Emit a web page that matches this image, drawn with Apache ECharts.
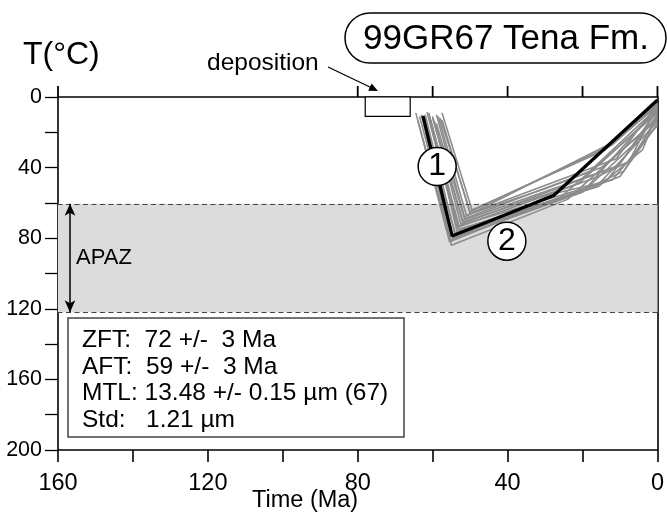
<!DOCTYPE html>
<html>
<head>
<meta charset="utf-8">
<script src="https://cdn.jsdelivr.net/npm/echarts@6/dist/echarts.min.js"></script>
<style>
html,body{margin:0;padding:0;background:#fff;}
#chart{width:667px;height:512px;}
</style>
</head>
<body>
<div id="chart"></div>
<script>
// ---- data (Time in Ma, Temperature in °C) ----
const xLabelValues = [160, 120, 80, 40, 0];
const yLabelValues = [0, 40, 80, 120, 160, 200];
const topTickValues = [160, 80, 60, 40, 20, 0];

const bestPath = [[62.6, 10.7], [54.8, 78.7], [27.7, 55.8], [0, 1.7]];

const grayPath1  = [[64.5, 9], [55.5, 82], [26, 57], [0, 9]];
const grayPath2  = [[63, 10], [55, 84], [24, 58], [0, 12]];
const grayPath3  = [[62, 12], [54.5, 80], [20, 54], [0, 6]];
const grayPath4  = [[61, 9], [53.5, 76], [16, 50], [0, 14]];
const grayPath5  = [[60.5, 13], [53, 73], [13.8, 48], [0, 10]];
const grayPath6  = [[60, 11], [52.5, 72], [10.4, 39], [0, 7]];
const grayPath7  = [[59.5, 14], [52, 70], [7.7, 37], [0, 5]];
const grayPath8  = [[59, 10], [51.5, 68], [12.2, 26], [0, 3]];
const grayPath9  = [[58, 12], [50, 65], [12, 27], [0, 4]];
const grayPath10 = [[57.5, 9], [49.5, 64], [14, 30], [0, 5]];
const grayPath11 = [[62.5, 14], [54, 77], [19, 52], [6.9, 28], [0, 8]];
const grayPath12 = [[63.5, 11], [55, 79], [23.7, 56], [10, 45], [0, 15]];
const grayPath13 = [[61.5, 8.5], [53.5, 74], [17, 46], [7, 36], [0, 11]];
const grayPath14 = [[60, 12], [52, 71], [21, 49], [0, 8]];
const grayPath15 = [[58.5, 11], [51, 67], [30, 52], [15, 40], [0, 13]];
const grayPath16 = [[64, 13], [55.2, 81], [28, 55], [12, 47], [0, 16]];
const grayPath17 = [[62, 10], [54, 78], [22, 55], [9, 42], [0, 12]];
const grayPath18 = [[59, 15], [51.5, 69], [18, 42], [0, 6]];
const grayPath19 = [[61, 12], [53, 75], [15.7, 50.7], [4, 30], [0, 9]];
const grayPath20 = [[57.5, 13], [50, 66], [11, 35], [0, 4]];

const grayPaths = [grayPath1, grayPath2, grayPath3, grayPath4, grayPath5, grayPath6, grayPath7,
  grayPath8, grayPath9, grayPath10, grayPath11, grayPath12, grayPath13, grayPath14, grayPath15,
  grayPath16, grayPath17, grayPath18, grayPath19, grayPath20];

const apazRange = [60.5, 122];          // °C (as drawn)
const depositionTime = [78, 66];        // Ma
const depositionTemp = [0, 11];         // °C
const apazArrowTime = 156.8;            // Ma
const segmentMarkers = [[58.8, 39.4], [40.2, 81.7]];
const segmentLabels = ['1', '2'];

const infoLines = [
  'ZFT:  72 +/-  3 Ma',
  'AFT:  59 +/-  3 Ma',
  'MTL: 13.48 +/- 0.15 \u00b5m (67)',
  'Std:   1.21 \u00b5m'
];

// ---- chart ----
const FONT = "'Liberation Sans', Arial, Helvetica, sans-serif";
const chart = echarts.init(document.getElementById('chart'), null, {renderer: 'canvas'});

const series = [];
series.push({
  type: 'line', data: [], silent: true, z: 1,
  markArea: {
    silent: true,
    data: [
      [{yAxis: apazRange[0], itemStyle: {color: '#dcdcdc'}}, {yAxis: apazRange[1]}],
      [{coord: [depositionTime[0], depositionTemp[0]], itemStyle: {color: '#ffffff', borderColor: '#000', borderWidth: 1.2}},
       {coord: [depositionTime[1], depositionTemp[1]]}]
    ]
  },
  markLine: {
    silent: true, symbol: 'none', animation: false,
    label: {show: false},
    lineStyle: {color: '#444', type: [5, 3.5], width: 1.2},
    data: [{yAxis: apazRange[0]}, {yAxis: apazRange[1]}]
  }
});
series.push({
  type: 'line', data: [], silent: true, z: 3,
  markLine: {
    silent: true, animation: false,
    symbol: ['arrow', 'arrow'], symbolSize: [8, 12],
    label: {show: false},
    lineStyle: {color: '#000', type: 'solid', width: 1.5},
    data: [[{coord: [apazArrowTime, apazRange[0]]}, {coord: [apazArrowTime, apazRange[1]]}]]
  }
});
grayPaths.forEach(function (p) {
  series.push({
    type: 'line', data: p, showSymbol: false, silent: true, z: 4,
    lineStyle: {color: '#8c8c8c', width: 1.6}
  });
});
series.push({
  type: 'line', data: bestPath, showSymbol: false, silent: true, z: 5,
  lineStyle: {color: '#000', width: 3.2}
});
series.push({
  type: 'scatter', z: 6, silent: true,
  data: segmentMarkers.map(function (d, i) { return {value: d, name: segmentLabels[i]}; }),
  symbol: 'circle', symbolSize: 38,
  itemStyle: {color: '#fff', borderColor: '#000', borderWidth: 1.5, opacity: 1},
  label: {show: true, position: 'inside', formatter: '{b}', color: '#000', fontSize: 32, fontFamily: FONT}
});

const option = {
  animation: false,
  backgroundColor: '#fff',
  grid: {left: 58, right: 8, top: 97, bottom: 62, containLabel: false},
  xAxis: [{
    type: 'value', position: 'bottom', inverse: true, min: 0, max: 160, interval: 20,
    axisLine: {show: true, onZero: false, lineStyle: {color: '#000', width: 1.6}},
    axisTick: {show: true, length: 12, lineStyle: {color: '#000', width: 1.6}},
    axisLabel: {
      show: true, margin: 22, color: '#000', fontSize: 23.5, fontFamily: FONT,
      showMinLabel: true, showMaxLabel: true,
      formatter: function (v) { return xLabelValues.indexOf(v) >= 0 ? String(v) : ''; }
    },
    splitLine: {show: false}
  }, {
    type: 'value', position: 'top', inverse: true, min: 0, max: 160, interval: 20,
    axisLine: {show: true, onZero: false, lineStyle: {color: '#000', width: 1.6}},
    axisTick: {show: false}, axisLabel: {show: false},
    splitLine: {show: false}
  }],
  yAxis: [{
    type: 'value', position: 'left', inverse: true, min: 0, max: 200, interval: 20,
    axisLine: {show: true, onZero: false, lineStyle: {color: '#000', width: 1.6}},
    axisTick: {show: true, length: 13, lineStyle: {color: '#000', width: 1.3}},
    axisLabel: {
      show: true, margin: 16, color: '#000', fontSize: 21.5, fontFamily: FONT,
      showMinLabel: true, showMaxLabel: true,
      formatter: function (v) { return yLabelValues.indexOf(v) >= 0 ? String(v) : ''; }
    },
    splitLine: {show: false}
  }, {
    type: 'value', position: 'right', inverse: true, min: 0, max: 200, interval: 20,
    axisLine: {show: true, onZero: false, lineStyle: {color: '#000', width: 1.6}},
    axisTick: {show: false}, axisLabel: {show: false}, splitLine: {show: false}
  }],
  series: series,
  graphic: [
    {type: 'text', z: 10, style: {x: 23, y: 55, text: 'T(\u00b0C)', fontSize: 32, fontFamily: FONT, fill: '#000', verticalAlign: 'middle'}},
    {type: 'text', z: 10, style: {x: 207, y: 63, text: 'deposition', fontSize: 24.5, fontFamily: FONT, fill: '#000', verticalAlign: 'middle'}},
    {type: 'line', z: 10, shape: {x1: 328, y1: 67, x2: 372, y2: 88}, style: {stroke: '#000', lineWidth: 1.3}},
    {type: 'polygon', z: 10, shape: {points: [[378, 91], [371.6, 83.5], [368.2, 90.7]]}, style: {fill: '#000'}},
    {type: 'rect', z: 10, shape: {x: 345, y: 13, width: 321, height: 50, r: 25}, style: {fill: '#fff', stroke: '#000', lineWidth: 1.5}},
    {type: 'text', z: 11, style: {x: 506, y: 39, text: '99GR67 Tena Fm.', fontSize: 35, fontFamily: FONT, fill: '#000', align: 'center', verticalAlign: 'middle'}},
    {type: 'text', z: 10, style: {x: 76, y: 258, text: 'APAZ', fontSize: 22, fontFamily: FONT, fill: '#000', verticalAlign: 'middle'}},
    {type: 'rect', z: 10, shape: {x: 68, y: 318, width: 336, height: 119}, style: {fill: '#fff', stroke: '#444', lineWidth: 1.5}},
    {type: 'text', z: 11, style: {x: 82, y: 340, text: infoLines[0], fontSize: 24.5, fontFamily: FONT, fill: '#000', verticalAlign: 'middle'}},
    {type: 'text', z: 11, style: {x: 82, y: 367, text: infoLines[1], fontSize: 24.5, fontFamily: FONT, fill: '#000', verticalAlign: 'middle'}},
    {type: 'text', z: 11, style: {x: 82, y: 393, text: infoLines[2], fontSize: 24.5, fontFamily: FONT, fill: '#000', verticalAlign: 'middle'}},
    {type: 'text', z: 11, style: {x: 82, y: 420, text: infoLines[3], fontSize: 24.5, fontFamily: FONT, fill: '#000', verticalAlign: 'middle'}},
    {type: 'text', z: 10, style: {x: 252, y: 501, text: 'Time (Ma)', fontSize: 23.5, fontFamily: FONT, fill: '#000', verticalAlign: 'middle'}}
  ]
};
chart.setOption(option);

// ticks on the top frame edge: positions come from the chart's own x scale
const topTickGraphics = topTickValues.map(function (v) {
  const p = chart.convertToPixel({xAxisIndex: 0, yAxisIndex: 0}, [v, 0]);
  return {type: 'line', z: 20, shape: {x1: p[0], y1: p[1], x2: p[0], y2: p[1] - 11},
    style: {stroke: '#000', lineWidth: 1.8}};
});
chart.setOption({graphic: option.graphic.concat(topTickGraphics)});
</script>
</body>
</html>
